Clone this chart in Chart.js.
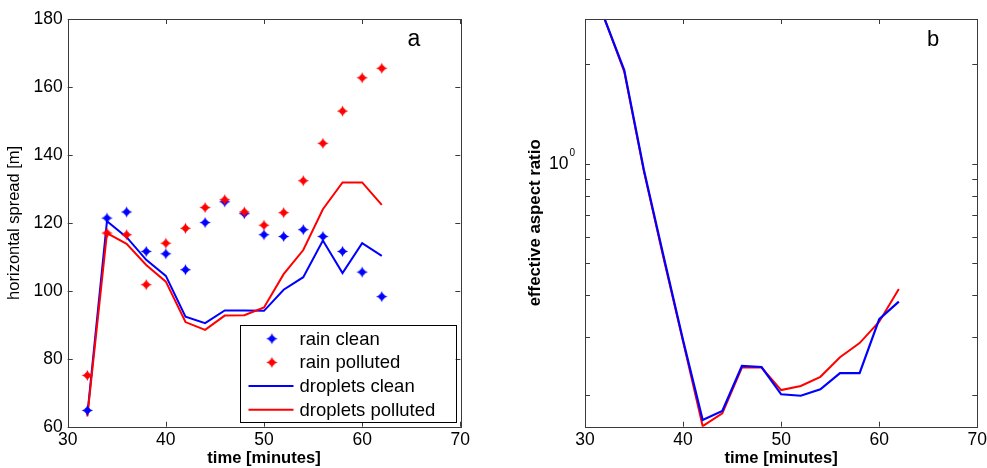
<!DOCTYPE html>
<html>
<head>
<meta charset="utf-8">
<script src="https://cdn.jsdelivr.net/npm/chart.js@4.4.1/dist/chart.umd.min.js"></script>
<style>
  html, body { margin: 0; padding: 0; background: #fff; overflow: hidden; }
  #wrap { position: relative; width: 987px; height: 468px; background: #fff; }
  .panel { position: absolute; top: 0; }
</style>
</head>
<body>
<div id="wrap">
  <div class="panel" style="left:0px;"><canvas id="c1" width="493" height="468"></canvas></div>
  <div class="panel" style="left:493px;"><canvas id="c2" width="494" height="468"></canvas></div>
</div>
<script>
// ---------------- data ----------------
const times = [32, 34, 36, 38, 40, 42, 44, 46, 48, 50, 52, 54, 56, 58, 60, 62];

const rainClean        = [64.8, 121.4, 123.2, 111.6, 110.9, 106.2, 120.1, 126.2, 122.7, 116.5, 116.0, 118.0, 116.0, 111.6, 105.5, 98.3];
const rainPolluted     = [75.1, 117.0, 116.5, 101.8, 114.0, 118.4, 124.5, 126.8, 123.2, 119.3, 123.0, 132.4, 143.4, 152.9, 162.7, 165.5];
const dropletsClean    = [63.5, 120.5, 115.8, 109.1, 104.4, 92.4, 90.5, 94.2, 94.2, 94.1, 100.3, 104.0, 114.8, 105.2, 114.0, 110.3];
const dropletsPolluted = [63.0, 117.0, 113.8, 107.6, 102.7, 90.8, 88.5, 92.7, 92.8, 95.1, 104.9, 112.0, 124.0, 131.9, 131.9, 125.3];

const aspectClean      = [2.74, 1.92, 0.96, 0.527, 0.293, 0.168, 0.179, 0.245, 0.243, 0.201, 0.199, 0.208, 0.233, 0.233, 0.339, 0.383];
const aspectPolluted   = [2.74, 1.90, 0.95, 0.520, 0.290, 0.161, 0.176, 0.242, 0.242, 0.207, 0.213, 0.227, 0.260, 0.287, 0.333, 0.418];

const seriesLabels = ['rain clean', 'rain polluted', 'droplets clean', 'droplets polluted'];
const xTickValues = [30, 40, 50, 60, 70];
const leftYTicks = [60, 80, 100, 120, 140, 160, 180];
const rightYTicks = [0.2, 0.3, 0.4, 0.5, 0.6, 0.7, 0.8, 0.9, 1, 2];
const rightYLabelValue = 1;          // labelled as 10^0
const panelLetters = ['a', 'b'];

// ---------------- styling ----------------
const BLUE = '#0000ff';
const RED = '#ff0000';
const FONT = 'Arial, "Liberation Sans", Helvetica, sans-serif';
const FRAME = '#3a3a3a';

function starMarker(color) {
  const c = document.createElement('canvas');
  c.width = 13; c.height = 13;
  const g = c.getContext('2d');
  const cx = 6.5, cy = 6.5, R = 5.6, r = 2.4;
  g.beginPath();
  for (let i = 0; i < 8; i++) {
    const ang = -Math.PI / 2 + i * Math.PI / 4;
    const rad = (i % 2 === 0) ? R : r;
    const px = cx + rad * Math.cos(ang), py = cy + rad * Math.sin(ang);
    if (i === 0) g.moveTo(px, py); else g.lineTo(px, py);
  }
  g.closePath();
  g.fillStyle = color;
  g.fill();
  g.beginPath();
  g.arc(cx, cy, 2.9, 0, Math.PI * 2);
  g.fill();
  return c;
}
const blueStar = starMarker(BLUE);
const redStar = starMarker(RED);

function pts(ys) { return times.map((t, i) => ({ x: t, y: ys[i] })); }

// frame + inward ticks
function framePlugin(yTickList) {
  return {
    id: 'frame',
    afterDraw(chart) {
      const { ctx, chartArea: a, scales } = chart;
      ctx.save();
      ctx.strokeStyle = FRAME;
      ctx.lineWidth = 1;
      const L = 5;
      ctx.beginPath();
      xTickValues.forEach(v => {
        const x = Math.round(scales.x.getPixelForValue(v)) + 0.5;
        ctx.moveTo(x, a.bottom); ctx.lineTo(x, a.bottom - L);
        ctx.moveTo(x, a.top); ctx.lineTo(x, a.top + L);
      });
      yTickList.forEach(v => {
        const y = Math.round(scales.y.getPixelForValue(v)) + 0.5;
        ctx.moveTo(a.left, y); ctx.lineTo(a.left + L, y);
        ctx.moveTo(a.right, y); ctx.lineTo(a.right - L, y);
      });
      ctx.stroke();
      ctx.strokeRect(Math.round(a.left) + 0.5, Math.round(a.top) + 0.5,
                     Math.round(a.right - a.left), Math.round(a.bottom - a.top));
      ctx.restore();
    }
  };
}

function letterPlugin(letter, dxFromRight, size) {
  return {
    id: 'letter',
    afterDraw(chart) {
      const { ctx, chartArea: a } = chart;
      ctx.save();
      ctx.fillStyle = '#000';
      ctx.font = size + 'px ' + FONT;
      ctx.textAlign = 'center';
      ctx.textBaseline = 'middle';
      ctx.fillText(letter, a.right - dxFromRight, a.top + 21);
      ctx.restore();
    }
  };
}

const legendPlugin = {
  id: 'boxLegend',
  afterDraw(chart) {
    const { ctx, chartArea: a } = chart;
    const w = 216, h = 97;
    const right = a.right - 4.8, bottom = a.bottom - 4.5;
    const left = right - w, top = bottom - h;
    ctx.save();
    ctx.fillStyle = '#fff';
    ctx.fillRect(left, top, w, h);
    ctx.strokeStyle = '#000';
    ctx.lineWidth = 1;
    ctx.strokeRect(Math.round(left) + 0.5, Math.round(top) + 0.5, Math.round(w), Math.round(h));
    ctx.font = '18.5px ' + FONT;
    ctx.textAlign = 'left';
    ctx.textBaseline = 'middle';
    const order = [0, 1, 2, 3];
    order.forEach((k, i) => {
      const ds = chart.data.datasets.find(d => d.label === seriesLabels[k]);
      const y = top + 13.5 + i * 23.7;
      if (ds.showLine === false) {
        const img = ds.pointStyle;
        ctx.drawImage(img, left + 32.4 - img.width / 2, y - img.height / 2);
      } else {
        ctx.strokeStyle = ds.borderColor;
        ctx.lineWidth = 2;
        ctx.beginPath();
        ctx.moveTo(left + 9, y); ctx.lineTo(left + 54, y);
        ctx.stroke();
      }
      ctx.fillStyle = '#000';
      ctx.fillText(ds.label, left + 60, y + 1);
    });
    ctx.restore();
  }
};

const supLabelPlugin = {
  id: 'supLabel',
  afterDraw(chart) {
    const { ctx, scales } = chart;
    const y = scales.y.getPixelForValue(rightYLabelValue);
    const xr = chart.chartArea.left - 16.5;
    ctx.save();
    ctx.fillStyle = '#000';
    ctx.textBaseline = 'middle';
    ctx.textAlign = 'right';
    ctx.font = '17.5px ' + FONT;
    ctx.fillText('10', xr, y + 0.5);
    ctx.textAlign = 'left';
    ctx.font = '10px ' + FONT;
    ctx.fillText('0', xr + 1, y - 11);
    ctx.restore();
  }
};

function xScale() {
  return {
    type: 'linear', min: 30, max: 70,
    afterBuildTicks(s) { s.ticks = xTickValues.map(v => ({ value: v })); },
    afterFit(s) { s.height = 41.3; s.paddingLeft = 0; s.paddingRight = 0; },
    grid: { display: false, drawTicks: false },
    border: { display: false },
    ticks: { padding: 3, color: '#000', font: { family: FONT, size: 17.5 }, maxRotation: 0, autoSkip: false },
    title: { display: true, text: 'time [minutes]', color: '#000', padding: { top: 0, bottom: 0 },
             font: { family: FONT, size: 16.6, weight: 'bold' } }
  };
}

// ---------------- chart a ----------------
new Chart(document.getElementById('c1'), {
  type: 'line',
  data: {
    datasets: [
      { label: seriesLabels[0], data: pts(rainClean), showLine: false, pointStyle: blueStar,
        pointRadius: 5, borderColor: BLUE, backgroundColor: BLUE, order: 1 },
      { label: seriesLabels[1], data: pts(rainPolluted), showLine: false, pointStyle: redStar,
        pointRadius: 5, borderColor: RED, backgroundColor: RED, order: 0 },
      { label: seriesLabels[2], data: pts(dropletsClean), borderColor: BLUE, borderWidth: 2,
        pointRadius: 0, tension: 0, fill: false, order: 3 },
      { label: seriesLabels[3], data: pts(dropletsPolluted), borderColor: RED, borderWidth: 2,
        pointRadius: 0, tension: 0, fill: false, order: 2 }
    ]
  },
  options: {
    responsive: false, animation: false, devicePixelRatio: 1,
    layout: { padding: { left: 0, top: 19, right: 32.7, bottom: 0 } },
    plugins: { legend: { display: false }, tooltip: { enabled: false } },
    scales: {
      x: xScale(),
      y: {
        type: 'linear', min: 60, max: 180,
        afterBuildTicks(s) { s.ticks = leftYTicks.map(v => ({ value: v })); },
        afterFit(s) { s.width = 67.7; s.paddingTop = 0; s.paddingBottom = 0; },
        grid: { display: false, drawTicks: false },
        border: { display: false },
        ticks: { padding: 5, color: '#000', font: { family: FONT, size: 17.5 } },
        title: { display: true, text: 'horizontal spread [m]', color: '#000', padding: { top: 5, bottom: 0 },
                 font: { family: FONT, size: 16.5 } }
      }
    }
  },
  plugins: [framePlugin(leftYTicks), letterPlugin(panelLetters[0], 46.3, 23), legendPlugin]
});

// ---------------- chart b ----------------
new Chart(document.getElementById('c2'), {
  type: 'line',
  data: {
    datasets: [
      { label: 'droplets clean', data: pts(aspectClean), borderColor: BLUE, borderWidth: 2.2,
        pointRadius: 0, tension: 0, fill: false, order: 0 },
      { label: 'droplets polluted', data: pts(aspectPolluted), borderColor: RED, borderWidth: 2,
        pointRadius: 0, tension: 0, fill: false, order: 1 }
    ]
  },
  options: {
    responsive: false, animation: false, devicePixelRatio: 1,
    layout: { padding: { left: 0, top: 19, right: 9.7, bottom: 0 } },
    plugins: { legend: { display: false }, tooltip: { enabled: false } },
    scales: {
      x: xScale(),
      y: {
        type: 'logarithmic', min: 0.1604, max: 2.74,
        afterFit(s) { s.width = 92; s.paddingTop = 0; s.paddingBottom = 0; },
        grid: { display: false, drawTicks: false },
        border: { display: false },
        ticks: { callback: () => '', font: { family: FONT, size: 17.5 } },
        title: { display: true, text: 'effective aspect ratio', color: '#000', padding: { top: 32, bottom: 0 },
                 font: { family: FONT, size: 16.8, weight: 'bold' } }
      }
    }
  },
  plugins: [framePlugin(rightYTicks), letterPlugin(panelLetters[1], 44.3, 22), supLabelPlugin]
});
</script>
</body>
</html>
